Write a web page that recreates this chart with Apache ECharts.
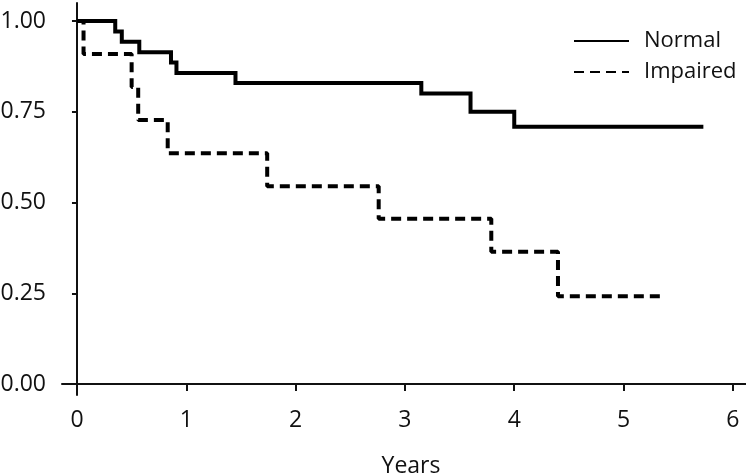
<!DOCTYPE html>
<html>
<head>
<meta charset="utf-8">
<script src="https://cdn.jsdelivr.net/npm/echarts@6/dist/echarts.min.js"></script>
<style>
  html, body { margin: 0; padding: 0; background: #fff; }
  #chart { width: 746px; height: 476px; }
</style>
</head>
<body>
<div id="chart"></div>
<script>
// survival curves (time in years, survival fraction)
var normalTimes = [0, 0.35, 0.41, 0.57, 0.86, 0.91, 1.45, 3.15, 3.60, 4.00, 5.73]
var normalSurv = [1.00, 0.971, 0.943, 0.914, 0.886, 0.857, 0.829, 0.800, 0.750, 0.709, 0.709]
var impairedTimes = [0, 0.06, 0.50, 0.56, 0.83, 1.74, 2.76, 3.79, 4.40, 5.38]
var impairedSurv = [1.00, 0.909, 0.818, 0.727, 0.636, 0.545, 0.455, 0.364, 0.242, 0.242]
var xTicks = [0, 1, 2, 3, 4, 5, 6]
var yTicks = [0, 0.25, 0.5, 0.75, 1]

function pairs (xs, ys) {
  return xs.map(function (x, i) { return [x, ys[i]] })
}

var font = '"Open Sans", "DejaVu Sans", sans-serif'
var chart = echarts.init(document.getElementById('chart'), null, { renderer: 'canvas' })

chart.setOption({
  animation: false,
  backgroundColor: '#fff',
  textStyle: { fontFamily: font },
  grid: { left: 62, right: 0, top: 3, bottom: 81, containLabel: false, outerBoundsMode: 'none' },
  legend: {
    orient: 'vertical',
    left: 568,
    top: 24,
    itemWidth: 55,
    itemHeight: 14,
    itemGap: 7,
    data: ['Normal', 'Impaired'],
    itemStyle: { opacity: 0 },
    lineStyle: { width: 2 },
    textStyle: { fontFamily: font, fontSize: 22, color: '#111', lineHeight: 24, padding: [0, 0, 0, 10] }
  },
  xAxis: {
    type: 'value',
    min: -0.137,
    max: 6.12,
    name: 'Years',
    nameLocation: 'middle',
    nameGap: 60,
    nameTextStyle: { fontFamily: font, fontSize: 23, color: '#111', padding: [0, 0, 0, 14] },
    splitLine: { show: false },
    axisLine: { show: true, lineStyle: { color: '#111', width: 2 } },
    axisTick: { show: true, length: 7, customValues: xTicks, lineStyle: { color: '#111', width: 2 } },
    axisLabel: { customValues: xTicks, margin: 14, fontFamily: font, fontSize: 23, color: '#111' }
  },
  yAxis: {
    type: 'value',
    min: -0.0303,
    max: 1.0496,
    splitLine: { show: false },
    axisLine: { show: true, lineStyle: { color: '#111', width: 2 } },
    axisTick: { show: true, length: 5, customValues: yTicks, lineStyle: { color: '#111', width: 2 } },
    axisLabel: {
      customValues: yTicks,
      margin: 16,
      fontFamily: font,
      fontSize: 23,
      color: '#111',
      formatter: function (v) { return v.toFixed(2) }
    }
  },
  series: [
    {
      name: 'Normal',
      type: 'line',
      step: 'end',
      symbol: 'none',
      data: pairs(normalTimes, normalSurv),
      itemStyle: { color: '#000' },
      lineStyle: { color: '#000', width: 4, join: 'miter' }
    },
    {
      name: 'Impaired',
      type: 'line',
      step: 'end',
      symbol: 'none',
      data: pairs(impairedTimes, impairedSurv),
      itemStyle: { color: '#000' },
      lineStyle: { color: '#000', width: 4, type: [10, 6] }
    }
  ]
})
</script>
</body>
</html>
